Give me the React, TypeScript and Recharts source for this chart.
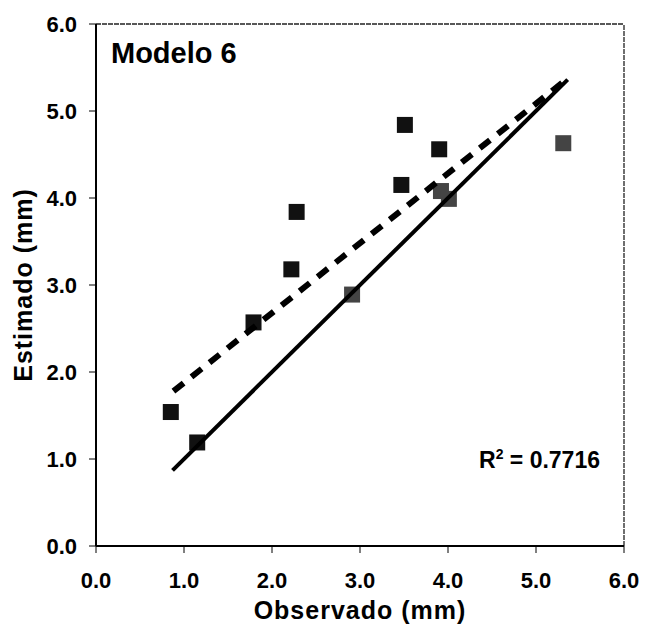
import { ScatterChart, Scatter, XAxis, YAxis, ReferenceLine } from 'recharts';

// observed vs estimated, solid squares
const blackObs = [0.85, 1.15, 1.79, 2.22, 2.28, 3.47, 3.51, 3.9];
const blackEst = [1.54, 1.19, 2.57, 3.18, 3.84, 4.15, 4.84, 4.56];
// speckled (grey) squares
const greyObs = [2.91, 3.92, 4.01, 5.31];
const greyEst = [2.89, 4.08, 3.99, 4.63];

// 1:1 line and fitted trend
const lineX = [0.87, 5.36];
const lineY = [0.87, 5.36];
const fitX = [0.88, 5.33];
const fitY = [1.78, 5.35];

const axisTicks = [0, 1, 2, 3, 4, 5, 6];

const zip = (xs: number[], ys: number[]) => xs.map((x, i) => ({ x, y: ys[i] }));

const font = '"Liberation Sans", Arial, sans-serif';

const square = (fill: string) => (p: any) => (
  <rect x={p.cx - 8} y={p.cy - 8} width={16} height={16} fill={fill} />
);

const noDot = () => <g />;

export default function App() {
  const tickStyle = { fontFamily: font, fontSize: 22, fontWeight: 700, fill: '#000' };
  const titleStyle = { fontFamily: font, fontSize: 25, fontWeight: 700, fill: '#000', letterSpacing: 1 };
  return (
    <div style={{ position: 'absolute', left: 0, top: 0, width: 648, height: 628, background: '#fff' }}>
      <ScatterChart width={648} height={628} margin={{ top: 24, right: 24, bottom: 0, left: 0 }}>
        <XAxis
          type="number"
          dataKey="x"
          domain={[0, 6]}
          ticks={axisTicks}
          tickFormatter={(v) => v.toFixed(1)}
          height={82}
          tickSize={7}
          tickMargin={19}
          tick={tickStyle}
          axisLine={{ stroke: '#000', strokeWidth: 2 }}
          tickLine={{ stroke: '#000' }}
          label={{ value: 'Observado (mm)', position: 'insideBottom', offset: 9, style: titleStyle }}
        />
        <YAxis
          type="number"
          dataKey="y"
          domain={[0, 6]}
          ticks={axisTicks}
          tickFormatter={(v) => v.toFixed(1)}
          width={96}
          tickSize={7}
          tickMargin={12}
          tick={tickStyle}
          axisLine={{ stroke: '#000', strokeWidth: 2 }}
          tickLine={{ stroke: '#000' }}
          label={(props: any) => {
            const vb = props.viewBox;
            const cy = vb.y + vb.height / 2;
            return (
              <text
                x={23}
                y={cy}
                transform={`rotate(-90, 23, ${cy})`}
                textAnchor="middle"
                dominantBaseline="central"
                style={titleStyle}
              >
                Estimado (mm)
              </text>
            );
          }}
        />
        <ReferenceLine y={6} stroke="#222" strokeWidth={1.3} strokeDasharray="5 1" />
        <ReferenceLine x={6} stroke="#222" strokeWidth={1.3} strokeDasharray="5 1" />
        <Scatter data={zip(blackObs, blackEst)} shape={square('#111')} isAnimationActive={false} />
        <Scatter data={zip(greyObs, greyEst)} shape={square('#444')} isAnimationActive={false} />
        <Scatter
          data={zip(lineX, lineY)}
          line={{ stroke: '#000', strokeWidth: 4 }}
          shape={noDot}
          isAnimationActive={false}
        />
        <Scatter
          data={zip(fitX, fitY)}
          line={{ stroke: '#000', strokeWidth: 6, strokeDasharray: '13 10' }}
          shape={noDot}
          isAnimationActive={false}
        />
      </ScatterChart>
      <div
        style={{
          position: 'absolute',
          left: 111,
          top: 39,
          fontFamily: font,
          fontSize: 29,
          fontWeight: 700,
          lineHeight: 1,
        }}
      >
        Modelo 6
      </div>
      <div
        style={{
          position: 'absolute',
          left: 479,
          top: 449,
          fontFamily: font,
          fontSize: 23,
          fontWeight: 700,
          lineHeight: 1,
        }}
      >
        R<sup style={{ fontSize: 14, verticalAlign: 'super', lineHeight: 0 }}>2</sup> = 0.7716
      </div>
    </div>
  );
}
